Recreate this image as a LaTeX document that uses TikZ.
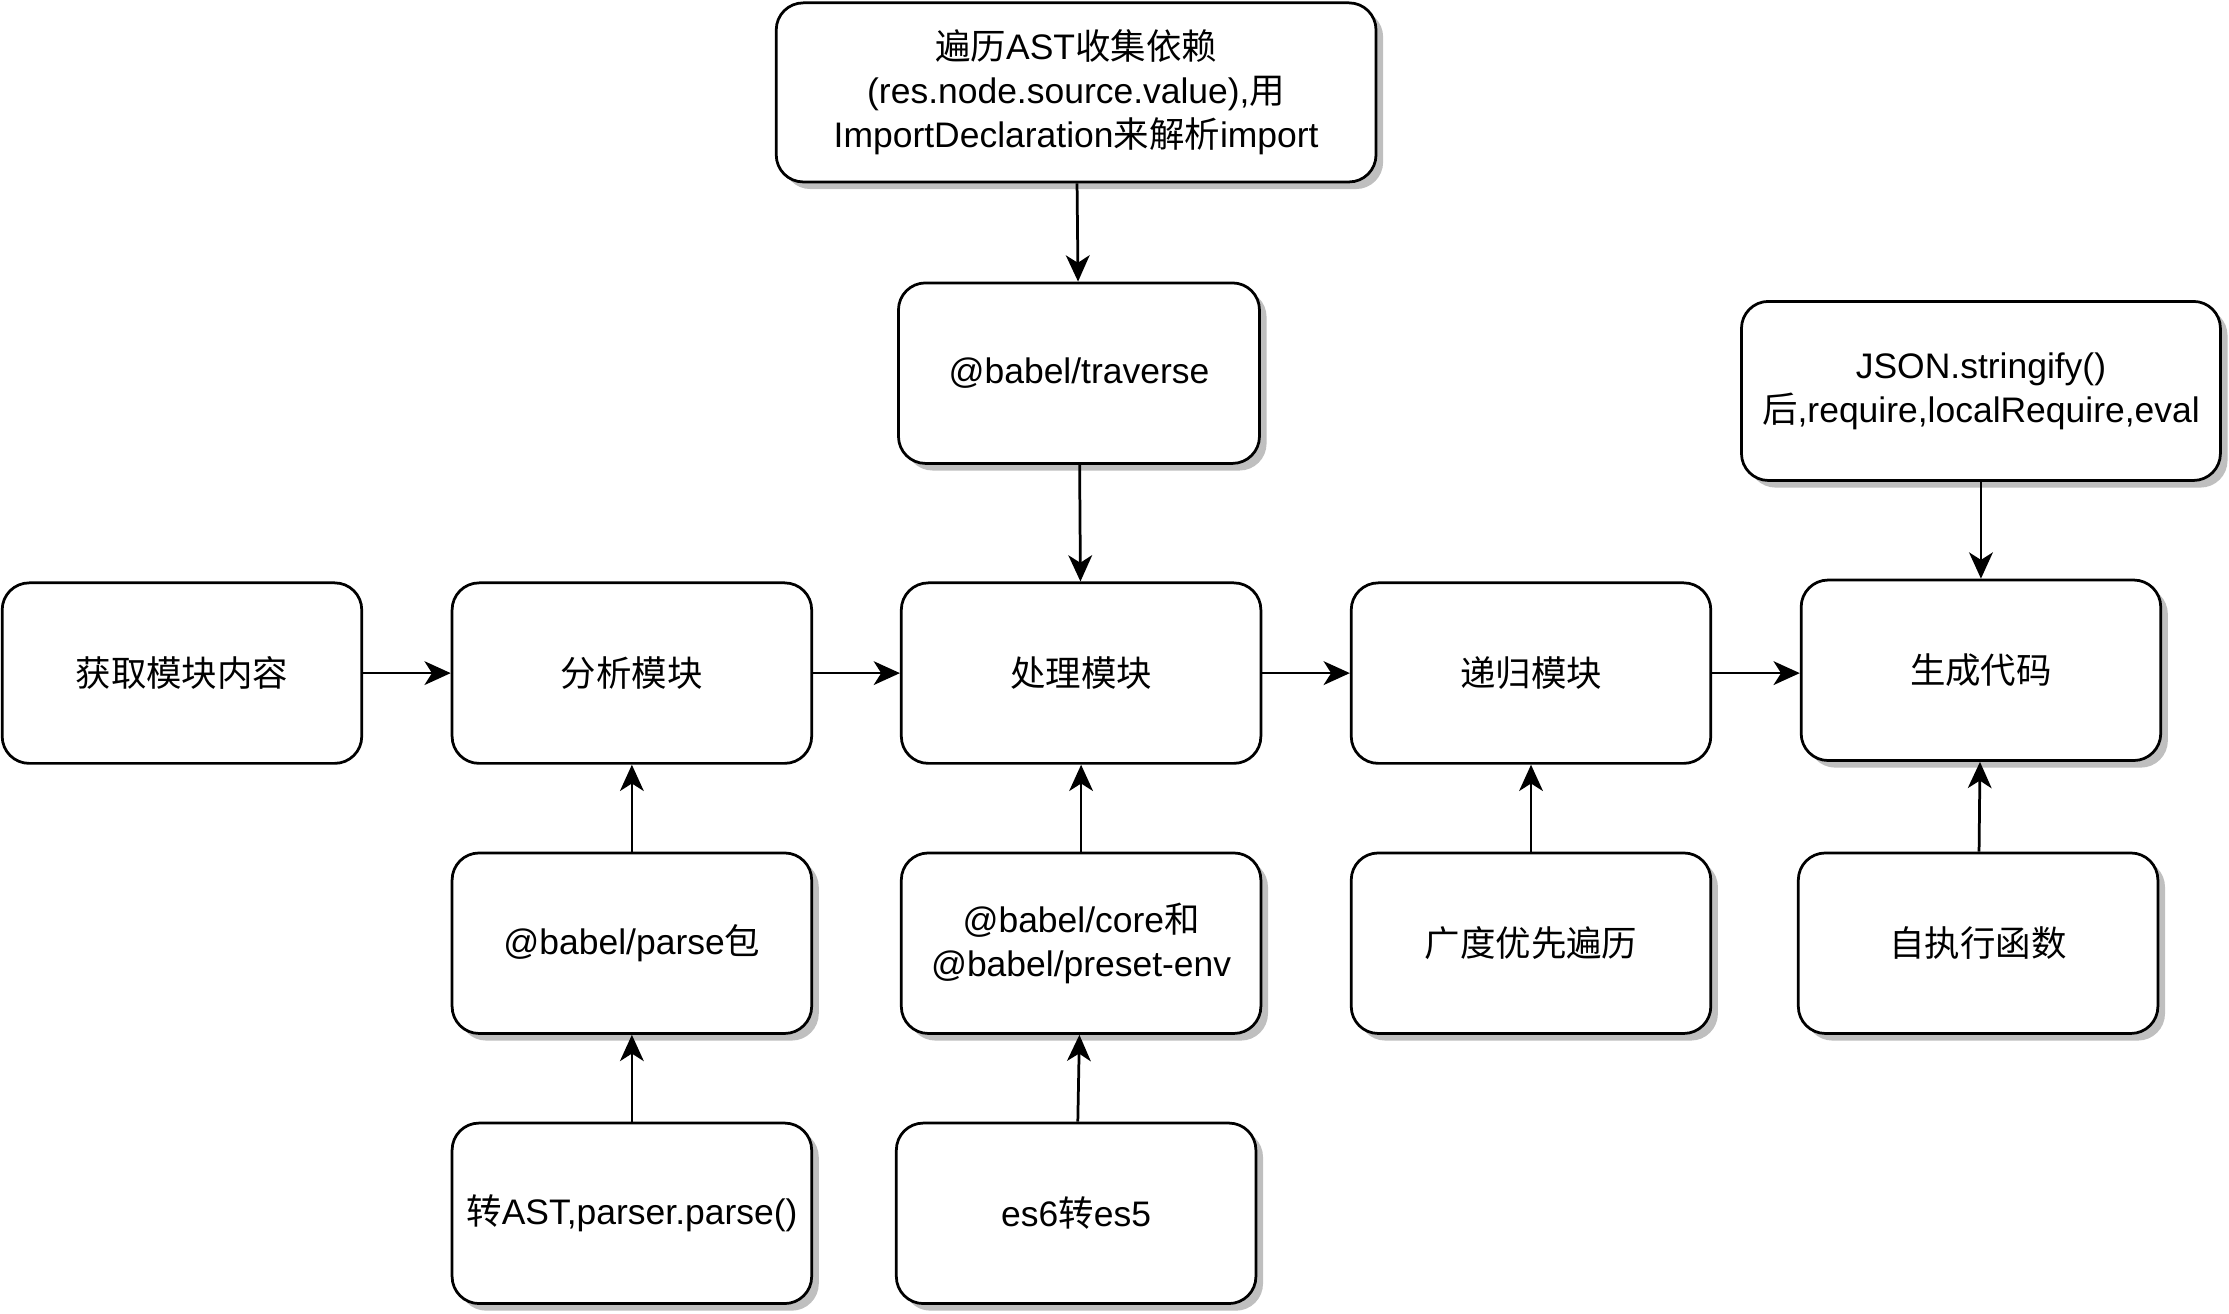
\documentclass[tikz,border=0pt]{standalone}
\usepackage{fontspec}
\setmainfont{Liberation Sans}
\newfontfamily\cjk{Noto Sans CJK SC}
\usetikzlibrary{arrows.meta,shadows}
\tikzset{
  box/.style={draw=black, line width=1.1pt, rounded corners=0.38cm, fill=white,
    align=center, inner sep=2pt, font=\fontsize{14.2}{17.6}\selectfont,
    minimum width=5.06cm, minimum height=2.54cm},
  shd/.style={drop shadow={shadow xshift=0.1cm, shadow yshift=-0.1cm, fill=black!25, opacity=1}},
  arr/.style={line width=1.1pt, -{Stealth[length=10.5pt,width=9.5pt,inset=3pt]}}
}
\begin{document}
\begin{tikzpicture}[x=0.02cm,y=-0.02cm]
\useasboundingbox (0,0) rectangle (1568,924);
% top
\node[box,shd,minimum width=8.44cm,minimum height=2.52cm] (T) at (757,65)
  {{\cjk 遍历}AST{\cjk 收集依赖}\\(res.node.source.value),{\cjk 用}\\ImportDeclaration{\cjk 来解析}import};
\node[box,shd,minimum width=5.08cm] (TR) at (759,262.5) {@babel/traverse};
\node[box,shd,minimum width=6.74cm,minimum height=2.52cm] (J) at (1393.5,275)
  {JSON.stringify()\\{\cjk 后},require,localRequire,eval};
% main row
\node[box] (A) at (128,473.5) {\cjk 获取模块内容};
\node[box] (B) at (444.5,473.5) {\cjk 分析模块};
\node[box] (C) at (760.5,473.5) {\cjk 处理模块};
\node[box] (D) at (1077,473.5) {\cjk 递归模块};
\node[box,shd] (E) at (1393.5,471.5) {\cjk 生成代码};
% row 3
\node[box,shd] (F) at (444.5,663.5) {@babel/parse{\cjk 包}};
\node[box,shd] (G) at (760.5,663.5) {@babel/core{\cjk 和}\\@babel/preset-env};
\node[box,shd] (H) at (1077,663.5) {\cjk 广度优先遍历};
\node[box,shd] (I) at (1391.5,663.5) {\cjk 自执行函数};
% row 4
\node[box,shd] (K) at (444.5,853.5) {{\cjk 转}AST,parser.parse()};
\node[box,shd] (L) at (757,853.5) {es6{\cjk 转}es5};
% connectors
\draw[arr] (A) -- (B);
\draw[arr] (B) -- (C);
\draw[arr] (C) -- (D);
\draw[arr] (D.east) -- (D.east -| E.west);
\draw[arr] (T) -- (TR);
\draw[arr] (TR) -- (C);
\draw[arr] (J) -- (E);
\draw[arr] (F) -- (B);
\draw[arr] (G) -- (C);
\draw[arr] (H) -- (D);
\draw[arr] (I) -- (E);
\draw[arr] (K) -- (F);
\draw[arr] (L) -- (G);
\end{tikzpicture}
\end{document}
